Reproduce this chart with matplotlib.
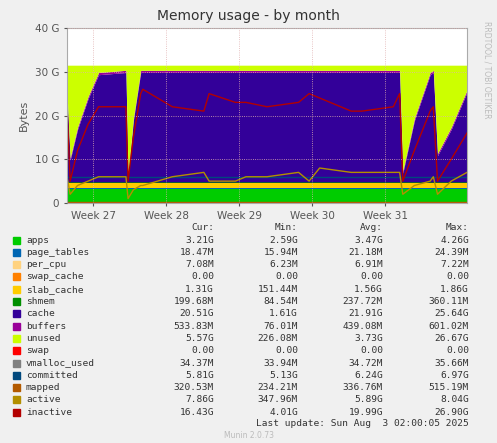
import numpy as np
import matplotlib
matplotlib.use("Agg")
import matplotlib.pyplot as plt

G = 1.0
# sample times (days since left edge)
t = [0, 0.3, 1, 2, 3, 5.6, 5.8, 6.3, 7, 7.2, 10, 13, 13.5, 16, 17, 19, 22, 23, 24, 27, 28, 31,
     31.6, 31.9, 33, 34.5, 34.8, 35.2, 36.5, 38]
cache = [20, 5, 12, 19, 24.5, 25, 1, 14, 25, 25, 25, 25, 25, 25, 25, 25, 25, 25, 25, 25, 25, 25,
         25, 2, 14, 24.5, 25, 6, 12, 20.5]
inactive = [22, 5, 12, 18, 22, 22, 5, 15, 25, 26, 22, 21, 25, 23, 23, 22, 23, 25, 24, 21, 21, 22,
            25, 5, 12, 21, 22, 5, 10, 16]
active = [6, 2, 4, 5, 6, 6, 1, 3, 4, 4, 6, 7, 5, 5, 6, 6, 7, 5, 8, 7, 7, 7,
          7, 2, 4, 5, 6, 2, 5, 7]
apps = 3.3
page_tables = 0.02
per_cpu = 0.007
swap_cache = 0.0
slab_cache = 1.3
shmem = 0.2
buffers = 0.5
committed = 5.9
mapped = 0.33
vmalloc_used = 0.035
total = 31.5

week_labels = ["Week 27", "Week 28", "Week 29", "Week 30", "Week 31"]
week_pos = [2.5, 9.43, 16.36, 23.29, 30.22]

names = ["apps", "page_tables", "per_cpu", "swap_cache", "slab_cache", "shmem", "cache", "buffers",
         "unused", "swap", "vmalloc_used", "committed", "mapped", "active", "inactive"]
colors = ["#00CC00", "#0066B3", "#FFD27F", "#FF8000", "#FFCC00", "#008F00", "#330099", "#990099",
          "#CCFF00", "#FF0000", "#808080", "#00487D", "#B35A00", "#B38F00", "#B30000"]
cur = ["3.21G", "18.47M", "7.08M", "0.00", "1.31G", "199.68M", "20.51G", "533.83M", "5.57G", "0.00",
       "34.37M", "5.81G", "320.53M", "7.86G", "16.43G"]
mins = ["2.59G", "15.94M", "6.23M", "0.00", "151.44M", "84.54M", "1.61G", "76.01M", "226.08M", "0.00",
        "33.94M", "5.13G", "234.21M", "347.96M", "4.01G"]
avgs = ["3.47G", "21.18M", "6.91M", "0.00", "1.56G", "237.72M", "21.91G", "439.08M", "3.73G", "0.00",
        "34.72M", "6.24G", "336.76M", "5.89G", "19.99G"]
maxs = ["4.26G", "24.39M", "7.22M", "0.00", "1.86G", "360.11M", "25.64G", "601.02M", "26.67G", "0.00",
        "35.66M", "6.97G", "515.19M", "8.04G", "26.90G"]

t = np.array(t)
n = len(t)
cache = np.array(cache)
layers = [np.full(n, apps), np.full(n, page_tables), np.full(n, per_cpu), np.full(n, swap_cache),
          np.full(n, slab_cache), np.full(n, shmem), cache, np.full(n, buffers)]
used = sum(layers)
layers.append(total - used)
layers.append(np.zeros(n))

fig = plt.figure(figsize=(4.97, 4.43), dpi=100, facecolor="#F0F0F0")
ax = fig.add_axes([67 / 497, 1 - 203 / 443, 400 / 497, 175 / 443])
ax.set_facecolor("white")
base = np.zeros(n)
for lay, c in zip(layers, colors[:10]):
    ax.fill_between(t, base, base + lay, color=c, lw=0)
    base = base + lay
ax.plot(t, np.full(n, vmalloc_used), color=colors[10], lw=1)
ax.plot(t, np.full(n, committed), color=colors[11], lw=1)
ax.plot(t, np.full(n, mapped), color=colors[12], lw=1)
ax.plot(t, active, color=colors[13], lw=1)
ax.plot(t, inactive, color=colors[14], lw=1)

ax.set_xlim(0, 38)
ax.set_ylim(0, 40)
ax.set_yticks([0, 10, 20, 30, 40])
ax.set_yticklabels(["0", "10 G", "20 G", "30 G", "40 G"])
ax.set_xticks(week_pos)
ax.set_xticklabels(week_labels)
ax.tick_params(labelsize=7.5, colors="#555555", length=2)
ax.grid(True, color="#E0B0B0", ls=":", lw=0.6)
ax.set_axisbelow(False)
for s in ax.spines.values():
    s.set_color("#AAAAAA")
ax.set_ylabel("Bytes", fontsize=8, color="#555555")
fig.text(0.5, 1 - 16 / 443, "Memory usage - by month", ha="center", va="center", fontsize=10, color="#333333")
fig.text(487 / 497, 1 - 70 / 443, "RRDTOOL / TOBI OETIKER", rotation=270, ha="center", va="center",
         fontsize=5.5, color="#BBBBBB")

mono = dict(family="DejaVu Sans Mono", fontsize=6.8, color="#333333")
def fy(py):
    return 1 - py / 443
for x, h in zip([214, 298, 383, 469], ["Cur:", "Min:", "Avg:", "Max:"]):
    fig.text(x / 497, fy(228), h, ha="right", va="center", **mono)
for i, nm in enumerate(names):
    y = 240 + i * 12.3
    fig.patches.append(plt.Rectangle((13 / 497, fy(y + 3.5)), 7 / 497, 7 / 443, color=colors[i],
                                     transform=fig.transFigure, figure=fig))
    fig.text(26 / 497, fy(y), nm, ha="left", va="center", **mono)
    for x, v in zip([214, 298, 383, 469], [cur[i], mins[i], avgs[i], maxs[i]]):
        fig.text(x / 497, fy(y), v, ha="right", va="center", **mono)
fig.text(469 / 497, fy(424), "Last update: Sun Aug  3 02:00:05 2025", ha="right", va="center", **mono)
fig.text(0.5, fy(436), "Munin 2.0.73", ha="center", va="center", fontsize=5.5, color="#BBBBBB")

fig.savefig("out.png", dpi=100, facecolor=fig.get_facecolor())
